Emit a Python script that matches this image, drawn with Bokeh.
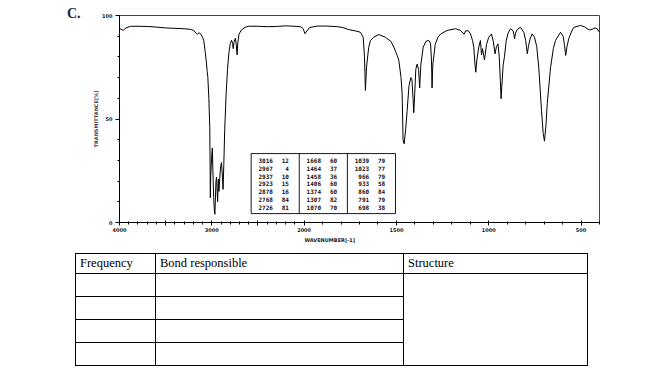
import numpy as np
from bokeh.plotting import figure
from bokeh.models import FixedTicker, Range1d, Div, Title
from bokeh.layouts import column, row
from bokeh.core.properties import value
from bokeh.embed import file_html
from bokeh.resources import INLINE

# ---------------- data ----------------
wavenumber = [4000, 3985, 3960, 3930, 3880, 3800, 3700, 3600, 3500, 3400, 3300, 3230, 3195, 3170,
              3158, 3140, 3122, 3100, 3087, 3070, 3061, 3050, 3043, 3032, 3022, 3018, 3016, 3012,
              3000, 2994, 2988, 2980, 2972, 2967, 2962, 2955, 2948, 2942, 2937, 2932, 2928, 2923,
              2916, 2905, 2895, 2885, 2878, 2870, 2860, 2845, 2830, 2815, 2800, 2785, 2775, 2768,
              2760, 2745, 2735, 2726, 2718, 2705, 2680, 2640, 2600, 2500, 2400, 2300, 2200, 2100,
              2030, 2010, 1995, 1985, 1970, 1930, 1880, 1820, 1790, 1760, 1720, 1695, 1680, 1673,
              1668, 1662, 1650, 1640, 1623, 1595, 1560, 1530, 1514, 1495, 1487, 1475, 1469, 1464,
              1458, 1450, 1442, 1432, 1422, 1416, 1410, 1406, 1401, 1395, 1388, 1380, 1374, 1368,
              1355, 1340, 1325, 1315, 1310, 1307, 1303, 1290, 1275, 1260, 1225, 1180, 1153, 1140,
              1133, 1125, 1110, 1099, 1088, 1081, 1075, 1070, 1065, 1054, 1045, 1039, 1034, 1023,
              1012, 1000, 985, 975, 966, 958, 950, 943, 937, 933, 929, 922, 915, 905, 895, 882,
              869, 864, 860, 855, 845, 828, 810, 800, 791, 785, 775, 765, 752, 740, 729, 714, 705,
              698, 690, 683, 665, 650, 638, 611, 597, 590, 583, 576, 566, 550, 539, 503, 480, 467,
              452, 440, 425, 413, 400]
transmittance = [93.8, 93.4, 92.8, 94.0, 94.8, 94.8, 94.7, 94.4, 94.0, 93.8, 93.6, 93.3, 92.8, 91.4,
                 90.9, 91.6, 91.2, 89.5, 87.9, 82.0, 78.3, 73.0, 70.2, 60.0, 46.0, 25.0, 12.0, 22.0,
                 33.0, 36.0, 25.0, 12.0, 6.0, 4.0, 10.0, 20.0, 22.0, 15.0, 10.0, 17.0, 21.0, 15.0,
                 20.0, 27.0, 29.0, 22.0, 16.0, 28.0, 45.0, 62.0, 74.0, 82.0, 86.5, 88.0, 86.5, 84.0,
                 87.0, 89.0, 86.0, 81.0, 87.0, 91.0, 93.0, 94.3, 94.8, 94.8, 94.6, 94.7, 95.0, 94.8,
                 94.5, 93.5, 91.2, 92.5, 94.2, 94.9, 94.9, 94.6, 94.2, 93.2, 92.5, 91.9, 89.5, 80.0,
                 63.8, 75.0, 84.7, 88.0, 89.5, 90.8, 89.5, 87.5, 84.7, 80.5, 78.3, 70.0, 62.0, 40.0,
                 38.0, 45.0, 54.0, 66.0, 70.0, 69.0, 60.0, 53.0, 62.0, 74.0, 76.5, 74.0, 65.0, 76.0,
                 84.7, 87.5, 88.0, 86.5, 78.0, 65.0, 76.0, 86.0, 89.5, 91.1, 92.8, 93.6, 92.8, 91.5,
                 91.0, 92.6, 92.6, 91.1, 88.0, 84.7, 77.0, 72.6, 78.0, 84.7, 87.9, 81.0, 84.0, 78.5,
                 86.0, 89.5, 91.1, 87.3, 81.5, 85.0, 86.3, 80.0, 68.0, 59.8, 66.0, 76.0, 80.0, 88.0, 91.5, 93.6,
                 92.8, 91.0, 88.7, 91.5, 93.3, 94.3, 91.9, 88.0, 81.5, 85.0, 89.0, 91.1, 89.5, 85.0, 75.0, 54.0, 43.0,
                 39.3, 47.0, 57.5, 75.0, 84.0, 88.0, 91.9, 90.0, 86.0, 80.7, 85.0, 89.0, 92.5, 94.3, 95.2, 94.5, 93.6,
                 93.0, 93.3, 94.0, 93.6, 91.9]

peak_wn = [3016, 2967, 2937, 2923, 2878, 2768, 2726,
           1668, 1464, 1458, 1406, 1374, 1307, 1070,
           1039, 1023, 966, 933, 860, 791, 698]
peak_t = [12, 4, 10, 15, 16, 84, 81,
          60, 37, 36, 60, 60, 82, 70,
          79, 77, 79, 58, 84, 79, 38]

x_tick_labels = ["4000", "", "3000", "", "2000", "1500", "1000", "500"]
x_tick_wn = [4000, 3500, 3000, 2500, 2000, 1500, 1000, 500]
y_ticks = [0, 50, 100]

table_headers = ["Frequency", "Bond responsible", "Structure"]


def wn_to_u(w):
    w = np.asarray(w, dtype=float)
    return np.where(w >= 2000, (4000 - w) / 2.0, 1000 + (2000 - w))


LEFT_W = 85  # width of the left strip holding the "C." label

# ---------------- figure ----------------
p = figure(width=656 - LEFT_W, height=245, x_range=Range1d(0, 2600), y_range=Range1d(0, 100),
           output_backend="svg", toolbar_location=None,
           min_border_left=119 - LEFT_W, min_border_right=57, min_border_top=15, min_border_bottom=23)
p.xgrid.visible = False
p.ygrid.visible = False
p.outline_line_color = "#444444"
p.outline_line_width = 1
p.background_fill_color = "white"
p.border_fill_color = "white"

tick_u = [float(v) for v in wn_to_u(x_tick_wn)]
minor_u = [float(v) for v in wn_to_u(list(range(4000, 399, -100)))]
p.xaxis.ticker = FixedTicker(ticks=tick_u, minor_ticks=minor_u)
p.xaxis.major_label_overrides = {u: lab for u, lab in zip(tick_u, x_tick_labels)}
p.yaxis.ticker = FixedTicker(ticks=y_ticks, minor_ticks=list(range(0, 101, 10)))

for ax in (p.xaxis[0], p.yaxis[0]):
    ax.axis_line_color = "black"
    ax.axis_line_width = 1
    ax.major_tick_line_color = "black"
    ax.minor_tick_line_color = "black"
    ax.major_label_text_font = "DejaVu Sans"
    ax.major_label_text_font_style = "bold"
    ax.major_label_text_font_size = "5px"
    ax.major_label_text_color = "#222222"

p.xaxis.major_tick_in = 2
p.xaxis.major_tick_out = 3
p.xaxis.minor_tick_in = 1
p.xaxis.minor_tick_out = 2
p.xaxis.major_label_standoff = 2

p.yaxis.major_tick_in = 0
p.yaxis.major_tick_out = 4
p.yaxis.minor_tick_in = 0
p.yaxis.minor_tick_out = 2
p.yaxis.major_label_standoff = 3
p.yaxis.axis_label = "TRANSMITTANCE[%]"
p.yaxis.axis_label_text_font = "DejaVu Sans"
p.yaxis.axis_label_text_font_style = "bold"
p.yaxis.axis_label_text_font_size = "5px"
p.yaxis.axis_label_standoff = 0

# x-axis caption (placed off-centre as in the original)
p.add_layout(Title(text="WAVENUMBER[-1]", align="left", offset=185, standoff=1,
                   text_font="DejaVu Sans", text_font_style="bold", text_font_size="5px",
                   text_color="#222222"), "below")

# spectrum
p.line(wn_to_u(wavenumber), transmittance, line_color="black", line_width=1.0)

# peak table box (layout constants in data space)
box_left, box_right, box_top, box_bottom = 713, 1495, 33.3, 4.3
col_w = (box_right - box_left) / 3.0
p.quad(left=[box_left], right=[box_right], top=[box_top], bottom=[box_bottom],
       fill_color="white", line_color="black", line_width=0.9)
p.segment(x0=[box_left + col_w, box_left + 2 * col_w], x1=[box_left + col_w, box_left + 2 * col_w],
          y0=[box_bottom, box_bottom], y1=[box_top, box_top], line_color="black", line_width=0.9)

row_top, row_step = 30.0, 3.8
xs_num, xs_int, ys = [], [], []
for i in range(len(peak_wn)):
    c, r = divmod(i, 7)
    xs_num.append(box_left + c * col_w + 118)
    xs_int.append(box_left + c * col_w + 205)
    ys.append(row_top - r * row_step)
for xs, labels in ((xs_num, [str(v) for v in peak_wn]), (xs_int, [str(v) for v in peak_t])):
    p.text(x=xs, y=ys, text=labels, text_font=value("DejaVu Sans Mono"), text_font_style="bold",
           text_font_size="6px", text_align="right", text_baseline="middle", text_color="#111111")

# ---------------- "C." label strip ----------------
div_c = Div(text='<div style="margin-left:67px;margin-top:6px;font-family:\'Liberation Serif\',serif;'
                 'font-weight:bold;font-size:14px;line-height:16px;color:#1c1c48;">C.</div>',
            width=LEFT_W, height=245, margin=0)

# ---------------- table below ----------------
td = "border:1px solid #000;padding:0 4px;vertical-align:middle;"
rows_html = ""
for i in range(4):
    extra = f'<td rowspan="4" style="{td}"></td>' if i == 0 else ""
    rows_html += f'<tr style="height:23px"><td style="{td}"></td><td style="{td}"></td>{extra}</tr>'
html = (
    '<table style="margin-left:75px;margin-top:8px;border-collapse:collapse;table-layout:fixed;'
    'width:512px;font-family:\'Liberation Serif\',serif;font-size:12.5px;color:#000;">'
    '<colgroup><col style="width:80px"><col style="width:248px"><col style="width:184px"></colgroup>'
    f'<tr style="height:20px"><td style="{td}">{table_headers[0]}</td>'
    f'<td style="{td}">{table_headers[1]}</td><td style="{td}">{table_headers[2]}</td></tr>'
    + rows_html + '</table>'
)
div = Div(text=html, width=656, height=138, margin=0)

layout = column(row(div_c, p, spacing=0), div, spacing=0)
open("out.html", "w").write(file_html(layout, INLINE))
